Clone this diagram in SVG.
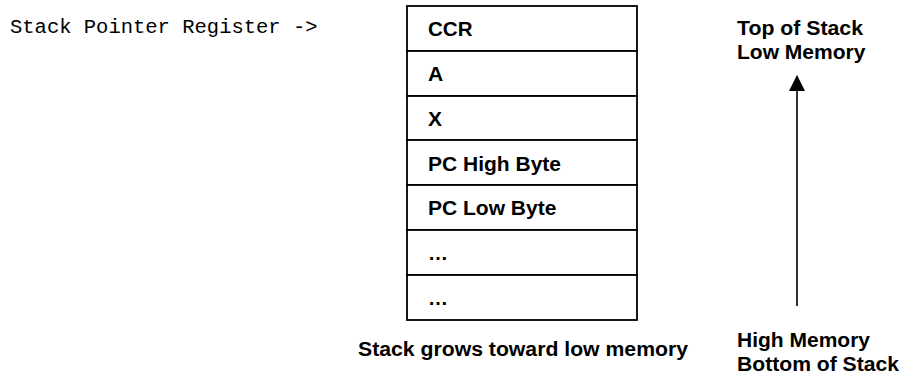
<svg xmlns="http://www.w3.org/2000/svg" width="901" height="375" viewBox="0 0 901 375">
  <style>
    .mono { font-family: "Liberation Mono", "Courier New", monospace; font-size: 20.5px; fill: #000; }
    .lbl { font-family: "Liberation Sans", Arial, sans-serif; font-size: 20px; font-weight: bold; fill: #000; }
    .cell { fill: #fff; stroke: #000; stroke-width: 1.8; }
    .conn { stroke: #000; stroke-width: 1.6; fill: none; }
  </style>
  <defs>
    <!-- filled triangular head, sized in user units -->
    <marker id="head" viewBox="0 0 16 16" refX="15" refY="8" markerWidth="16" markerHeight="16" markerUnits="userSpaceOnUse" orient="auto">
      <path d="M0,0 L16,8 L0,16 Z" fill="#000"/>
    </marker>
  </defs>
  <rect width="901" height="375" fill="#fff"/>

  <g id="sp-label">
    <text class="mono" x="10" y="33">Stack Pointer Register -&gt;</text>
  </g>

  <!-- stack frame cells, top (low memory) to bottom -->
  <g id="stack">
    <g id="cell-ccr"><rect class="cell" x="407" y="6" width="230" height="45"/><text class="lbl" x="428" y="36" textLength="44.5" lengthAdjust="spacingAndGlyphs">CCR</text></g>
    <g id="cell-a"><rect class="cell" x="407" y="51" width="230" height="45"/><text class="lbl" x="428" y="81" textLength="15.2" lengthAdjust="spacingAndGlyphs">A</text></g>
    <g id="cell-x"><rect class="cell" x="407" y="96" width="230" height="44"/><text class="lbl" x="428" y="126" textLength="14" lengthAdjust="spacingAndGlyphs">X</text></g>
    <g id="cell-pch"><rect class="cell" x="407" y="140" width="230" height="45"/><text class="lbl" x="428" y="171" textLength="133" lengthAdjust="spacingAndGlyphs">PC High Byte</text></g>
    <g id="cell-pcl"><rect class="cell" x="407" y="185" width="230" height="45"/><text class="lbl" x="428" y="215" textLength="128.4" lengthAdjust="spacingAndGlyphs">PC Low Byte</text></g>
    <g id="cell-e1"><rect class="cell" x="407" y="230" width="230" height="45"/><text class="lbl" x="428" y="260" textLength="20" lengthAdjust="spacingAndGlyphs">…</text></g>
    <g id="cell-e2"><rect class="cell" x="407" y="275" width="230" height="45"/><text class="lbl" x="428" y="305" textLength="20" lengthAdjust="spacingAndGlyphs">…</text></g>
  </g>

  <g id="caption">
    <text class="lbl" x="358" y="356" textLength="330" lengthAdjust="spacingAndGlyphs">Stack grows toward low memory</text>
  </g>

  <g id="top-label">
    <text class="lbl" x="737" y="35" textLength="126" lengthAdjust="spacingAndGlyphs">Top of Stack</text>
    <text class="lbl" x="737" y="59" textLength="128.4" lengthAdjust="spacingAndGlyphs">Low Memory</text>
  </g>

  <g id="bottom-label">
    <text class="lbl" x="737" y="347" textLength="133" lengthAdjust="spacingAndGlyphs">High Memory</text>
    <text class="lbl" x="737" y="371" textLength="162" lengthAdjust="spacingAndGlyphs">Bottom of Stack</text>
  </g>

  <g id="connectors">
    <line class="conn" x1="797" y1="306" x2="797" y2="76" marker-end="url(#head)"/>
  </g>
</svg>
